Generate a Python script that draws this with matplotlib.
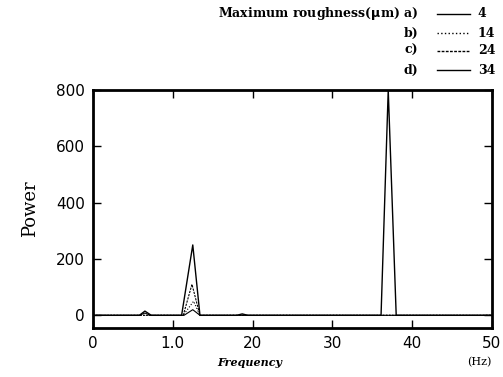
import matplotlib
matplotlib.use("Agg")
from matplotlib import pyplot as plt
from matplotlib.lines import Line2D

# Power spectrum for each maximum roughness (um)
freq_a = [0, 5.8, 6.5, 7.2, 11.4, 12.5, 13.4, 50]
power_a = [0, 0, 8, 0, 0, 20, 0, 0]

freq_b = [0, 11.3, 12.6, 13.4, 50]
power_b = [0, 0, 50, 0, 0]

freq_c = [0, 11.3, 12.4, 13.4, 50]
power_c = [0, 0, 110, 0, 0]

freq_d = [0, 5.8, 6.5, 7.3, 11.1, 12.5, 13.4, 18.0, 18.7, 19.4, 36.1, 37.0, 38.0, 50]
power_d = [0, 0, 15, 0, 0, 250, 0, 0, 5, 0, 0, 800, 0, 0]

legend_labels = ["a)", "b)", "c)", "d)"]
legend_values = ["4", "14", "24", "34"]
legend_styles = ["-", ":", (0, (2, 1)), "-"]

serif = "DejaVu Serif"

fig = plt.figure(figsize=(5.03, 3.77), dpi=100)
ax = fig.add_axes([0.185, 0.130, 0.793, 0.631])

ax.plot(freq_a, power_a, color="black", lw=0.8, linestyle="-")
ax.plot(freq_b, power_b, color="black", lw=0.8, linestyle=":")
ax.plot(freq_c, power_c, color="black", lw=0.8, linestyle=(0, (2, 1)))
ax.plot(freq_d, power_d, color="black", lw=1.0, linestyle="-")

ax.set_xlim(0, 50)
ax.set_ylim(-45, 800)
ax.set_xticks([0, 10, 20, 30, 40, 50])
ax.set_xticklabels(["0", "1.0", "20", "30", "40", "50"])
ax.set_yticks([0, 200, 400, 600, 800])
ax.tick_params(direction="in", top=True, right=True, length=6, width=1,
               labelsize=11, pad=6)
for s in ax.spines.values():
    s.set_linewidth(2)

ax.set_ylabel("Power", fontsize=13, family=serif, labelpad=12)
fig.text(0.497, 0.03, "Frequency", fontsize=8, family=serif,
         fontweight="bold", fontstyle="italic", ha="center")
fig.text(0.952, 0.03, "(Hz)", fontsize=8, family=serif, ha="center")

# Hand-drawn style legend at the top right
rows_y = [0.963, 0.912, 0.865, 0.814]
for i in range(4):
    y = rows_y[i]
    label = legend_labels[i]
    if i == 0:
        label = "Maximum roughness($\\mathbf{\\mu}$m) " + label
    fig.text(0.831, y, label, fontsize=9, family=serif, fontweight="bold",
             ha="right", va="center")
    fig.add_artist(Line2D([0.869, 0.934], [y, y], color="black", lw=1.0,
                          linestyle=legend_styles[i],
                          transform=fig.transFigure))
    fig.text(0.950, y, legend_values[i], fontsize=9, family=serif,
             fontweight="bold", va="center")

fig.savefig("out.png", dpi=100)
